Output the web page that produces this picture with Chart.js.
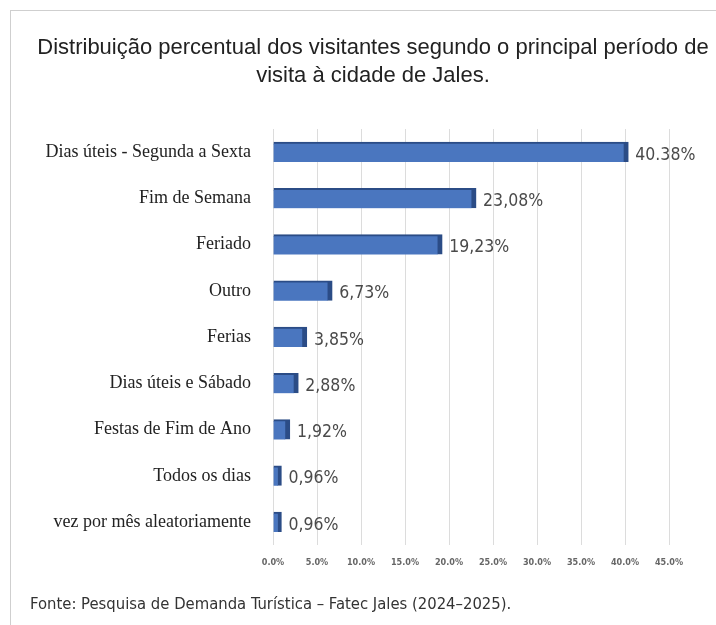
<!DOCTYPE html>
<html>
<head>
<meta charset="utf-8">
<script src="https://cdn.jsdelivr.net/npm/chart.js@4"></script>
<style>
  body { margin: 0; background: #fff; overflow: hidden; }
  #frame { position: absolute; left: 10px; top: 10px; width: 720px; height: 700px; border: 1px solid #cfcfcf; }
  #wrap { position: absolute; left: 0; top: 0; width: 716px; height: 625px; }
  #titulo { position: absolute; left: 0; top: 33px; width: 746px; text-align: center; font: 22px 'Liberation Sans', Arial, sans-serif; line-height: 28px; color: #222; }
  #fonte { position: absolute; left: 30px; top: 594px; font: 16.5px 'Liberation Sans Narrow', 'DejaVu Sans Condensed', sans-serif; color: #333; white-space: nowrap; }
</style>
</head>
<body>
<div id="frame"></div>
<div id="wrap"><canvas id="chart" width="716" height="625"></canvas></div>
<div id="titulo">Distribuição percentual dos visitantes segundo o principal período de<br>visita à cidade de Jales.</div>
<div id="fonte">Fonte: Pesquisa de Demanda Turística – Fatec Jales (2024–2025).</div>
<script>
  "use strict";

  // categories and values
  let periods = [
    "Dias úteis - Segunda a Sexta",
    "Fim de Semana",
    "Feriado",
    "Outro",
    "Ferias",
    "Dias úteis e Sábado",
    "Festas de Fim de Ano",
    "Todos os dias",
    "vez por mês aleatoriamente"
  ];
  let percents = [40.38, 23.08, 19.23, 6.73, 3.85, 2.88, 1.92, 0.96, 0.96];
  let tickValues = [0, 5, 10, 15, 20, 25, 30, 35, 40, 45];

  // draw the value after each bar
  let valueLabels = {
    id: "valueLabels",
    afterDatasetsDraw(chart) {
      let ctx = chart.ctx;
      let meta = chart.getDatasetMeta(0);
      ctx.save();
      ctx.font = "17.5px 'Liberation Sans Narrow', 'DejaVu Sans Condensed', sans-serif";
      ctx.fillStyle = "#4a4a4a";
      ctx.textBaseline = "middle";
      meta.data.forEach(function (bar, i) {
        let txt = percents[i].toFixed(2).replace(".", i == 0 ? "." : ",") + "%";
        ctx.fillText(txt, bar.x + 7, bar.y + 3);
      });
      ctx.restore();
    }
  };

  let ctx0 = document.getElementById("chart");
  let myChart = new Chart(ctx0, {
    type: "bar",
    data: {
      labels: periods,
      datasets: [
        {
          data: percents,
          backgroundColor: "#4a76bf",
          borderColor: "#2b4c86",
          borderWidth: { top: 2, right: 5, bottom: 0, left: 0 },
          borderSkipped: false,
          barThickness: 20
        }
      ]
    },
    plugins: [valueLabels],
    options: {
      responsive: false,
      animation: false,
      indexAxis: "y",
      layout: { padding: { left: 30, right: 47, top: 129, bottom: 45 } },
      plugins: {
        legend: { display: false },
        tooltip: { enabled: false },
        title: { display: false }
      },
      scales: {
        x: {
          min: 0,
          max: 45,
          afterBuildTicks: function (axis) {
            axis.ticks = tickValues.map(function (v) { return { value: v }; });
          },
          ticks: {
            color: "#666",
            padding: 12,
            font: { family: "'DejaVu Sans Condensed', sans-serif", size: 9, weight: "bold" },
            maxRotation: 0,
            callback: function (v) { return Number(v).toFixed(1) + "%"; }
          },
          grid: { color: "#dcdcdc", drawTicks: false },
          border: { display: false }
        },
        y: {
          afterFit: function (axis) { axis.width = 243; },
          ticks: {
            color: "#222",
            padding: 14,
            font: { family: "'Liberation Serif', 'DejaVu Serif', serif", size: 18 }
          },
          grid: { display: false },
          border: { display: false }
        }
      }
    }
  });
</script>
</body>
</html>
